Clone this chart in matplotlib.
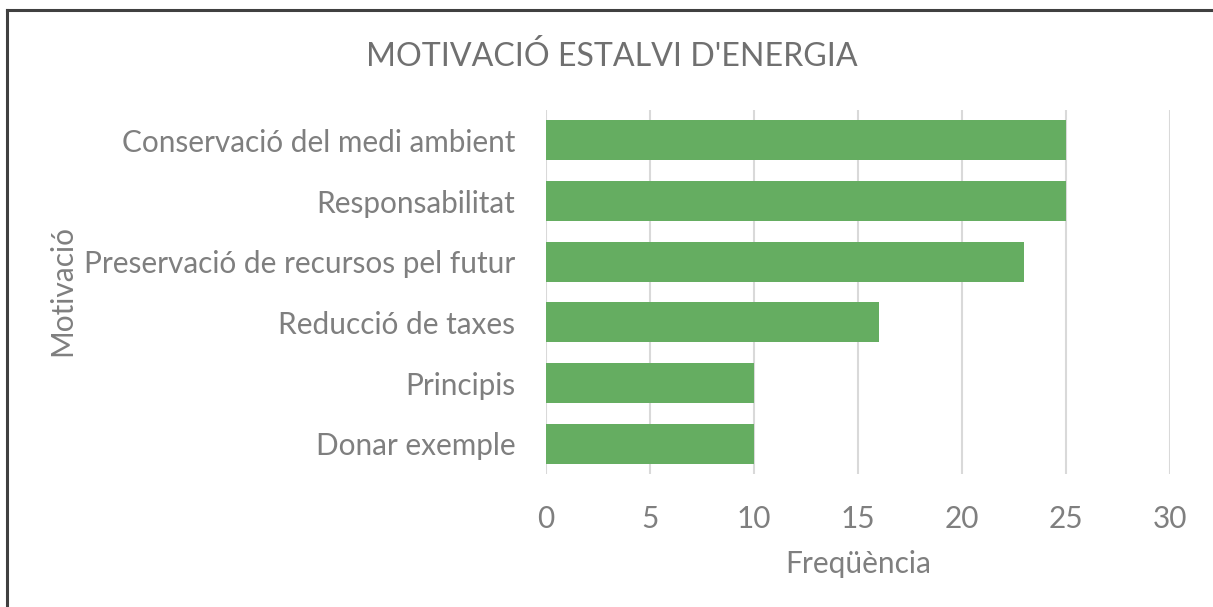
import matplotlib.pyplot as plt
from matplotlib.lines import Line2D

categories = ["Conservació del medi ambient", "Responsabilitat",
              "Preservació de recursos pel futur", "Reducció de taxes",
              "Principis", "Donar exemple"]
values = [25, 25, 23, 16, 10, 10]
xticks = [0, 5, 10, 15, 20, 25, 30]

plt.rcParams['font.family'] = ['Lato', 'DejaVu Sans']
grey = '#7f7f7f'

fig = plt.figure(figsize=(12.13, 6.07), dpi=100)
ax = fig.add_axes([546 / 1213, 1 - 474 / 607, 624 / 1213, 364 / 607])

ax.barh(range(len(categories)), values, height=0.66, color='#65ad61', zorder=3)
ax.set_ylim(len(categories) - 0.5, -0.5)
ax.set_xlim(0, 30)
ax.set_xticks(xticks)
ax.set_yticks(range(len(categories)))
ax.set_yticklabels(categories)
ax.grid(axis='x', color='#d9d9d9', linewidth=1.5, zorder=0)
for s in ax.spines.values():
    s.set_visible(False)
ax.tick_params(length=0, labelsize=21.4, colors=grey)
ax.tick_params(axis='y', pad=22)
ax.tick_params(axis='x', pad=22.5)

fig.text(858 / 1213, 1 - 564 / 607, "Freqüència", fontsize=21.5,
         color=grey, ha='center', va='center')
fig.text(62 / 1213, 1 - 291 / 607, "Motivació", rotation=90, fontsize=21.5,
         color=grey, ha='center', va='center')
fig.text(612 / 1213, 1 - 56 / 607, "MOTIVACIÓ ESTALVI D'ENERGIA", fontsize=23.1,
         color='#707070', ha='center', va='center')

# chart frame along the top and left edges
fig.add_artist(Line2D([7 / 1213, 7 / 1213], [0, 1 - 9.5 / 607],
                      transform=fig.transFigure, color='#404040', linewidth=2.2))
fig.add_artist(Line2D([7 / 1213, 1], [1 - 9.5 / 607, 1 - 9.5 / 607],
                      transform=fig.transFigure, color='#404040', linewidth=2.2))

fig.savefig("out.png", dpi=100)
